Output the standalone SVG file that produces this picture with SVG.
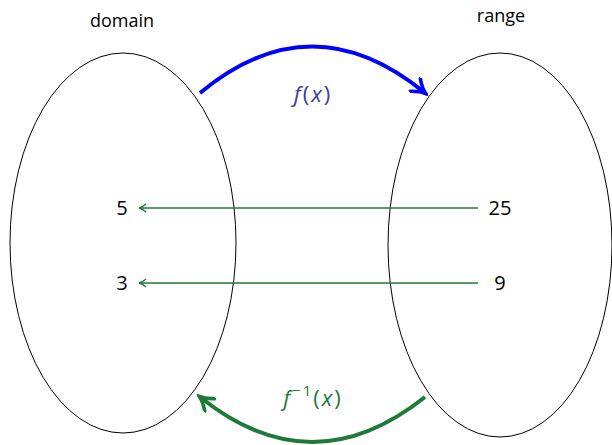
<svg xmlns="http://www.w3.org/2000/svg" width="612" height="445" viewBox="0 0 612 445">
<style>
.set{fill:none;stroke:#000;stroke-width:1}
.lbl{font-family:"Open Sans","DejaVu Sans",sans-serif;font-size:18px;fill:#000;text-anchor:middle}
.num{font-family:"Open Sans","DejaVu Sans",sans-serif;font-size:20px;fill:#000;text-anchor:middle}
.math{font-family:"Open Sans","DejaVu Sans",sans-serif;font-size:22px;text-anchor:middle;letter-spacing:2px}
.it{font-style:italic}
.map{fill:none;stroke:#1f7a3a;stroke-width:1.6}
</style>
<defs>
<marker id="thin" viewBox="0 0 10 10" refX="9" refY="5" markerWidth="10" markerHeight="10" markerUnits="userSpaceOnUse" orient="auto">
<path d="M2,1 Q6,4.5 9,5 Q6,5.5 2,9" fill="none" stroke="#1f7a3a" stroke-width="1.4"/>
</marker>
<marker id="blueHead" viewBox="0 0 10 10" refX="8" refY="5" markerWidth="4.5" markerHeight="4.5" orient="auto">
<path d="M1,0.5 Q5,4 8.5,5 Q5,6 1,9.5" fill="none" stroke="#0000ff" stroke-width="2" stroke-linecap="round"/>
</marker>
<marker id="greenHead" viewBox="0 0 10 10" refX="8" refY="5" markerWidth="4.5" markerHeight="4.5" orient="auto">
<path d="M1,0.5 Q5,4 8.5,5 Q5,6 1,9.5" fill="none" stroke="#1f7a3a" stroke-width="2" stroke-linecap="round"/>
</marker>
</defs>
<g id="domain">
<ellipse class="set" cx="123" cy="243" rx="113" ry="190"/>
<text class="lbl" x="122" y="27">domain</text>
</g>
<g id="range">
<ellipse class="set" cx="500" cy="245" rx="112" ry="192"/>
<text class="lbl" x="501" y="22">range</text>
</g>
<g id="n5"><text class="num" x="122" y="215">5</text></g>
<g id="n3"><text class="num" x="122" y="290">3</text></g>
<g id="n25"><text class="num" x="500" y="215">25</text></g>
<g id="n9"><text class="num" x="500" y="290">9</text></g>
<g id="connectors">
<path d="M200,93 Q312,0 425,93" fill="none" stroke="#0000ff" stroke-width="4" marker-end="url(#blueHead)"/>
<path d="M425,397 Q312,487 200,397" fill="none" stroke="#1f7a3a" stroke-width="4" marker-end="url(#greenHead)"/>
<line class="map" x1="478" y1="208" x2="139" y2="208" marker-end="url(#thin)"/>
<line class="map" x1="478" y1="283" x2="139" y2="283" marker-end="url(#thin)"/>
<text class="math" x="313" y="102" fill="#3b3b9e"><tspan class="it">f</tspan>(<tspan class="it">x</tspan>)</text>
<text class="math" x="313" y="406" fill="#1f7a3a"><tspan class="it">f</tspan><tspan dy="-10" font-size="15">−1</tspan><tspan dy="10">(</tspan><tspan class="it">x</tspan>)</text>
</g>
</svg>
